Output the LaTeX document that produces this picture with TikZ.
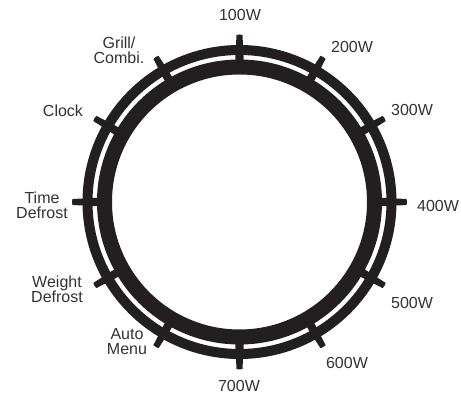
\documentclass[tikz,border=0pt]{standalone}
\usepackage{fontspec}
\setmainfont{Liberation Sans}
\definecolor{ringcol}{HTML}{231F20}
\definecolor{txtcol}{HTML}{333333}
\begin{document}
\begin{tikzpicture}[x=1pt,y=1pt,
  lbl/.style={font=\fontsize{16}{15}\selectfont, text=txtcol, align=center, inner sep=0pt},
  ring/.style={draw=ringcol}]
\useasboundingbox[fill=white] (0,0) rectangle (461,396);
\coordinate (c) at (239.5,194);
% rings
\draw[ring, line width=10pt] (c) circle[radius=152pt];
\draw[ring, line width=15pt] (c) circle[radius=135pt];
% ticks
\foreach \a in {0,30,...,330}{
  \fill[ringcol, shift={(239.5,194)}, rotate=\a]
    (134,-4.6) -- (167,-3.0) -- (167.5,0) -- (167,3.0) -- (134,4.6) -- cycle;
}
% labels (y = 396 - pixel y)
\node[lbl] (w100) at (240,381) {100W};
\node[lbl] (w200) at (352,349) {200W};
\node[lbl] (w300) at (412,286) {300W};
\node[lbl] (w400) at (438,190) {400W};
\node[lbl] (w500) at (412,93) {500W};
\node[lbl] (w600) at (347,33) {600W};
\node[lbl] (w700) at (239,10) {700W};
\node[lbl] (auto) at (127,54) {Auto\\Menu};
\node[lbl] (weight) at (57,107) {Weight\\Defrost};
\node[lbl] (time) at (42,191) {Time\\Defrost};
\node[lbl] (clock) at (63,285) {Clock};
\node[lbl] (grill) at (119,346) {Grill/\\Combi.};
\end{tikzpicture}
\end{document}
